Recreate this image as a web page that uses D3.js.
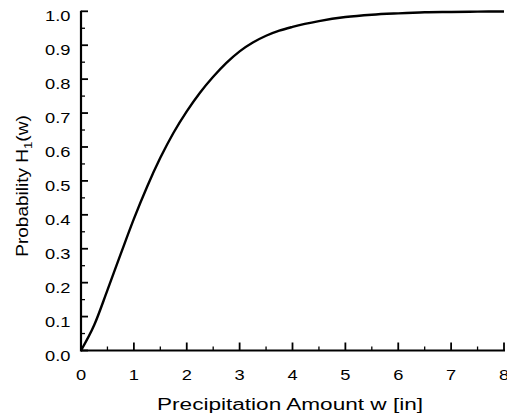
<!DOCTYPE html>
<html><head><meta charset="utf-8">
<script src="https://cdn.jsdelivr.net/npm/d3@7"></script>
<style>body{margin:0;background:#fff}svg{display:block}text{font-family:"Liberation Sans",Arial,sans-serif;fill:#000}</style>
</head><body><div id="chart"></div>
<script>
const precip = [0,0.25,0.5,0.75,1.0,1.25,1.5,1.75,2.0,2.25,2.5,2.75,3.0,3.25,3.5,3.75,4.0,4.5,5.0,5.5,6.0,6.5,7.0,7.5,8.0];
const prob   = [0,0.075,0.178,0.284,0.388,0.483,0.568,0.642,0.705,0.760,0.807,0.848,0.882,0.908,0.928,0.943,0.954,0.971,0.983,0.990,0.994,0.997,0.998,0.999,0.9995];
const xTicks = [0,1,2,3,4,5,6,7,8];
const yTicks = [0,0.1,0.2,0.3,0.4,0.5,0.6,0.7,0.8,0.9,1.0];

const W=507,H=418;
const svg=d3.select("#chart").append("svg").attr("width",W).attr("height",H);
const x=d3.scaleLinear().domain([0,8]).range([81,504]);
const y=d3.scaleLinear().domain([0,1]).range([350.5,11.3]);

const xMinor=d3.range(0.5,8,1), yMinor=d3.range(0.05,1,0.1);
const g=svg.append("g");
g.selectAll(".xm").data(xMinor).enter().append("line")
 .attr("x1",d=>x(d)).attr("x2",d=>x(d)).attr("y1",y(0)).attr("y2",y(0)-4)
 .attr("stroke","#000").attr("stroke-width",1.3);
g.selectAll(".xM").data(xTicks).enter().append("line")
 .attr("x1",d=>x(d)).attr("x2",d=>x(d)).attr("y1",y(0)).attr("y2",y(0)-8)
 .attr("stroke","#000").attr("stroke-width",1.8);
g.selectAll(".ym").data(yMinor).enter().append("line")
 .attr("y1",d=>y(d)).attr("y2",d=>y(d)).attr("x1",x(0)).attr("x2",x(0)+4)
 .attr("stroke","#000").attr("stroke-width",1.3);
g.selectAll(".yM").data(yTicks).enter().append("line")
 .attr("y1",d=>y(d)).attr("y2",d=>y(d)).attr("x1",x(0)).attr("x2",x(0)+7)
 .attr("stroke","#000").attr("stroke-width",1.8);
g.append("line").attr("x1",x(0)).attr("x2",x(8)+1).attr("y1",y(0)).attr("y2",y(0)).attr("stroke","#000").attr("stroke-width",2.2);
g.append("line").attr("x1",x(0)).attr("x2",x(0)).attr("y1",y(0)+1).attr("y2",y(1)-0.5).attr("stroke","#000").attr("stroke-width",2.2);

// tick labels (wide Helvetica-like look: stretched horizontally)
g.selectAll(".xl").data(xTicks).enter().append("text")
 .attr("transform",d=>`translate(${x(d)},379.5) scale(1.18,1)`)
 .attr("text-anchor","middle").attr("font-size",15.5).text(d=>d);
g.selectAll(".yl").data(yTicks).enter().append("text")
 .attr("transform",d=>`translate(70.5,${y(d)+10}) scale(1.18,1)`)
 .attr("text-anchor","end").attr("font-size",15.5).text(d=>d.toFixed(1));

const line=d3.line().x((d,i)=>x(precip[i])).y(d=>y(d)).curve(d3.curveMonotoneX);
svg.append("path").datum(prob).attr("d",line).attr("fill","none").attr("stroke","#000").attr("stroke-width",2.4);

svg.append("text").attr("x",290).attr("y",410).attr("text-anchor","middle").attr("font-size",16)
 .attr("textLength",266).attr("lengthAdjust","spacingAndGlyphs").text("Precipitation Amount w [in]");
const yt=svg.append("text").attr("transform","translate(27.5,186) rotate(-90) scale(1.19,1)").attr("text-anchor","middle").attr("font-size",16);
yt.append("tspan").text("Probability H");
yt.append("tspan").attr("font-size",11).attr("dy",4).text("1");
yt.append("tspan").attr("dy",-4).text("(w)");
</script></body></html>
